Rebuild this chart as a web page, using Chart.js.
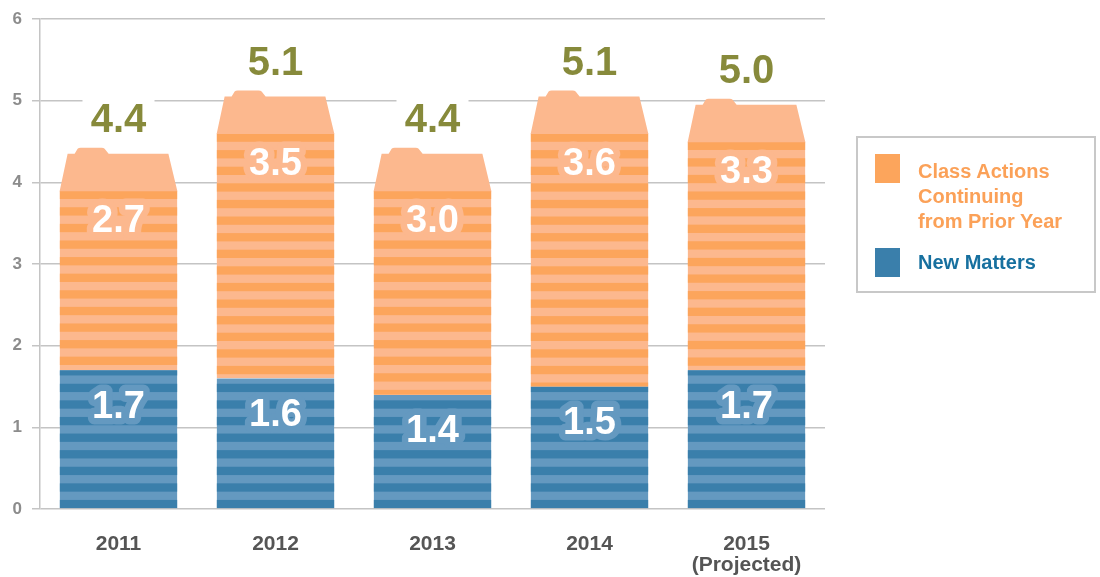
<!DOCTYPE html>
<html>
<head>
<meta charset="utf-8">
<script src="https://cdn.jsdelivr.net/npm/chart.js@4.4.1/dist/chart.umd.min.js"></script>
<style>
  body { margin: 0; background: #fff; }
  #wrap { position: relative; width: 1100px; height: 577px; }
  #legend {
    position: absolute; left: 856px; top: 136px; width: 240px; height: 157px;
    border: 2px solid #c8c8c8; box-sizing: border-box;
    font-family: "Liberation Sans", Arial, sans-serif; font-weight: bold; font-size: 20px; line-height: 25px;
  }
  #legend .sw { position: absolute; left: 17px; width: 25px; height: 29px; }
  #legend .tx { position: absolute; left: 60px; }
</style>
</head>
<body>
<div id="wrap">
  <canvas id="chart" width="1100" height="577"></canvas>
  <div id="legend">
    <div class="sw" style="top:16px;background:#fca55c"></div>
    <div class="tx" style="top:21px;color:#fba158">Class Actions<br>Continuing<br>from Prior Year</div>
    <div class="sw" style="top:110px;background:#3a7fab"></div>
    <div class="tx" style="top:112px;color:#17709f">New Matters</div>
  </div>
</div>
<script>
const years = [['2011'], ['2012'], ['2013'], ['2014'], ['2015', '(Projected)']];
const newMatters = [1.7, 1.6, 1.4, 1.5, 1.7];
const continuing = [2.7, 3.5, 3.0, 3.6, 3.3];
const totals = [4.4, 5.1, 4.4, 5.1, 5.0];
const yTicks = [0, 1, 2, 3, 4, 5, 6];

const BLUE_DARK = '#3a7fab', BLUE_LIGHT = '#6499c0';
const ORANGE_DARK = '#fca55c', ORANGE_LIGHT = '#fcb88e';
const OLIVE = '#878a3b';
const STRIPE = 16.6;

function stripes(ctx, left, top, right, bottom, light, dark, fromBottom) {
    ctx.save();
    ctx.beginPath();
    ctx.rect(left, top, right - left, bottom - top);
    ctx.clip();
    ctx.fillStyle = light;
    ctx.fillRect(left, top, right - left, bottom - top);
    ctx.fillStyle = dark;
    if (fromBottom) {
        for (let y = bottom; y > top - STRIPE; y -= STRIPE) {
            ctx.fillRect(left, y - STRIPE / 2, right - left, STRIPE / 2);
        }
    } else {
        for (let y = top; y < bottom; y += STRIPE) {
            ctx.fillRect(left, y, right - left, STRIPE / 2);
        }
    }
    ctx.restore();
}

function haloText(ctx, text, x, y, halo) {
    ctx.font = 'bold 38px "Liberation Sans", Arial, sans-serif';
    ctx.textAlign = 'center';
    ctx.textBaseline = 'middle';
    ctx.lineJoin = 'round';
    ctx.lineWidth = 13;
    ctx.strokeStyle = halo;
    ctx.strokeText(text, x, y);
    ctx.fillStyle = '#fff';
    ctx.fillText(text, x, y);
}

// draws the striped segments, the folder-shaped cap and all value labels
const folderBars = {
    id: 'folderBars',
    afterDatasetsDraw(chart) {
        const ctx = chart.ctx;
        const blue = chart.getDatasetMeta(0).data;
        const orange = chart.getDatasetMeta(1).data;

        blue.forEach(function (el, i) {
            const l = el.x - el.width / 2, r = el.x + el.width / 2;
            stripes(ctx, l, el.y, r, el.base, BLUE_LIGHT, BLUE_DARK, true);
        });

        orange.forEach(function (el, i) {
            const l = el.x - el.width / 2, r = el.x + el.width / 2;
            const capTop = el.y + 4, stripeTop = el.y + 41, tabTop = el.y - 2;
            stripes(ctx, l, stripeTop, r, el.base, ORANGE_LIGHT, ORANGE_DARK, false);

            ctx.save();
            ctx.fillStyle = ORANGE_LIGHT;
            ctx.beginPath();
            ctx.moveTo(l, stripeTop + 0.5);
            ctx.lineTo(l + 8, capTop);
            ctx.lineTo(l + 15, capTop);
            ctx.lineTo(l + 18, tabTop + 1);
            ctx.quadraticCurveTo(l + 19, tabTop, l + 21, tabTop);
            ctx.lineTo(l + 42, tabTop);
            ctx.quadraticCurveTo(l + 44, tabTop, l + 45, tabTop + 1);
            ctx.lineTo(l + 49, capTop);
            ctx.lineTo(r - 9, capTop);
            ctx.lineTo(r, stripeTop + 0.5);
            ctx.closePath();
            ctx.fill();
            ctx.restore();
        });

        blue.forEach(function (el, i) {
            haloText(ctx, newMatters[i].toFixed(1), el.x, el.y + 37, BLUE_LIGHT);
        });
        orange.forEach(function (el, i) {
            haloText(ctx, continuing[i].toFixed(1), el.x, el.y + 72, ORANGE_LIGHT);

            // total above the folder, on a white patch that hides the grid
            const ty = el.y - 30;
            ctx.save();
            ctx.fillStyle = '#fff';
            ctx.fillRect(el.x - 36, ty - 24, 72, 48);
            ctx.font = 'bold 40px "Liberation Sans", Arial, sans-serif';
            ctx.textAlign = 'center';
            ctx.textBaseline = 'middle';
            ctx.fillStyle = OLIVE;
            ctx.fillText(totals[i].toFixed(1), el.x, ty + 1);
            ctx.restore();
        });
    },
    // category labels, placed by the x scale
    afterDraw(chart) {
        const ctx = chart.ctx;
        const xs = chart.scales.x;
        ctx.save();
        ctx.font = 'bold 21px "Liberation Sans", Arial, sans-serif';
        ctx.fillStyle = '#555';
        ctx.textAlign = 'center';
        ctx.textBaseline = 'middle';
        years.forEach(function (lines, i) {
            const x = xs.getPixelForTick(i);
            lines.forEach(function (t, j) {
                ctx.fillText(t, x, xs.top + 35 + j * 21.5);
            });
        });
        ctx.restore();
    }
};

new Chart(document.getElementById('chart'), {
    type: 'bar',
    data: {
        labels: years,
        datasets: [
            { label: 'New Matters', data: newMatters, backgroundColor: 'rgba(0,0,0,0)' },
            { label: 'Class Actions Continuing from Prior Year', data: continuing, backgroundColor: 'rgba(0,0,0,0)' }
        ]
    },
    options: {
        responsive: false,
        animation: false,
        devicePixelRatio: 1,
        categoryPercentage: 1,
        barPercentage: 0.75,
        layout: { padding: { top: 19, right: 275, left: 0, bottom: 0 } },
        plugins: {
            legend: { display: false },
            tooltip: { enabled: false }
        },
        scales: {
            x: {
                stacked: true,
                grid: { display: false },
                border: { display: false },
                ticks: { display: false },
                afterFit: function (s) { s.height = 68; }
            },
            y: {
                stacked: true,
                min: 0,
                max: 6,
                afterBuildTicks: function (s) { s.ticks = yTicks.map(v => ({ value: v })); },
                ticks: {
                    color: '#8c8c8c',
                    padding: 10,
                    font: { family: '"Liberation Sans", Arial', weight: 'bold', size: 17 }
                },
                grid: { color: '#c4c4c4', lineWidth: 1.5, tickLength: 8 },
                border: { color: '#c4c4c4', width: 1.5 },
                afterFit: function (s) {
                    s.width = 40;
                    s.paddingTop = 0;
                    s.paddingBottom = 0;
                }
            }
        }
    },
    plugins: [folderBars]
});
</script>
</body>
</html>
